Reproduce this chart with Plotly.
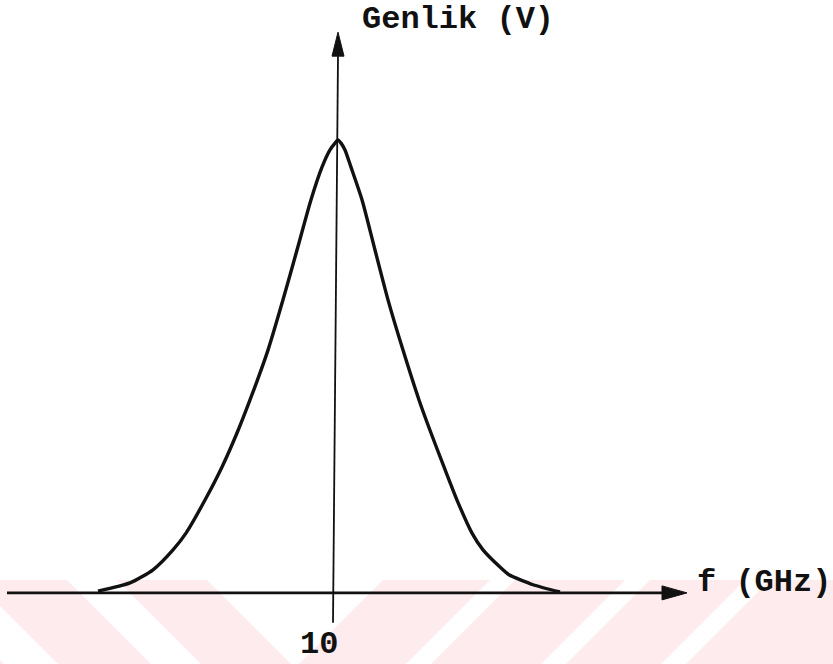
import plotly.graph_objects as go

# Spectrum of the signal: amplitude (normalised) versus frequency in GHz
freq_ghz = [7.60, 7.92, 8.15, 8.35, 8.48, 8.67, 8.84, 8.99, 9.12, 9.30, 9.45,
            9.59, 9.73, 9.84, 9.92, 9.97, 10.00, 10.03, 10.07, 10.13, 10.24,
            10.37, 10.50, 10.65, 10.81, 10.93, 11.06, 11.19, 11.34, 11.45,
            11.62, 11.71, 11.95, 12.22]
amplitude = [0.004, 0.022, 0.051, 0.095, 0.132, 0.205, 0.278, 0.353, 0.426,
             0.536, 0.647, 0.757, 0.868, 0.940, 0.978, 0.993, 1.000, 0.993,
             0.978, 0.940, 0.868, 0.757, 0.647, 0.536, 0.426, 0.353, 0.278,
             0.205, 0.132, 0.095, 0.057, 0.040, 0.018, 0.002]

center_tick = [10]
center_label = ["10"]
y_title = "Genlik (V)"
x_title = "f (GHz)"

W, H = 833, 664
X_RANGE = [6.62, 14.95]
Y_RANGE = [-0.157, 1.309]

# axis extents (data units)
X_AXIS_START, X_AXIS_END = 6.69, 13.49
Y_AXIS_BOTTOM, Y_AXIS_TOP = -0.066, 1.238

ink = "#111111"
font = dict(family="Liberation Mono, Courier New, monospace", size=32, color=ink)

fig = go.Figure()
fig.add_trace(go.Scatter(
    x=freq_ghz, y=amplitude, mode="lines",
    line=dict(color=ink, width=3.4, shape="spline", smoothing=0.6),
    hoverinfo="skip", showlegend=False,
))

px_x = (X_RANGE[1] - X_RANGE[0]) / W   # data units per pixel
px_y = (Y_RANGE[1] - Y_RANGE[0]) / H

shapes = []

# faint chevron band along the bottom edge (paper coordinates)
def pp(x, y):
    return x / W, 1 - y / H

def poly(points, color):
    d = "M " + " L ".join(f"{pp(x, y)[0]:.5f},{pp(x, y)[1]:.5f}" for x, y in points) + " Z"
    return dict(type="path", xref="paper", yref="paper", path=d,
                fillcolor=color, line=dict(width=0), layer="below")

pink = "#fdebee"
shapes.append(poly([(0, 580), (W, 580), (W, H), (0, H)], pink))
band_top, band_bot = 580, H
drop = band_bot - band_top
for a, b in [(-80, -26), (67, 117)]:
    shapes.append(poly([(a, band_top), (b, band_top), (b + drop, band_bot), (a + drop, band_bot)], "white"))
shapes.append(poly([(207, band_top), (383, band_top), (299, band_bot), (291, band_bot)], "white"))
for a, b in [(490, 515), (625, 650), (745, 770)]:
    shapes.append(poly([(a, band_top), (b, band_top), (b - drop, band_bot), (a - drop, band_bot)], "white"))

# horizontal axis with arrowhead
head_len_x = 25 * px_x
head_half_y = 7 * px_y
shapes.append(dict(type="line", x0=X_AXIS_START, x1=X_AXIS_END - head_len_x, y0=0, y1=0,
                   line=dict(color=ink, width=2.6)))
shapes.append(dict(type="path",
                   path=f"M {X_AXIS_END - head_len_x},{head_half_y} L {X_AXIS_END},0 "
                        f"L {X_AXIS_END - head_len_x},{-head_half_y} Z",
                   fillcolor=ink, line=dict(color=ink, width=1)))

# vertical axis with arrowhead (centred on f = 10)
f0 = center_tick[0]
head_len_y = 24 * px_y
head_half_x = 6 * px_x
shapes.append(dict(type="line", x0=f0 - 5 * px_x, x1=f0, y0=Y_AXIS_BOTTOM, y1=Y_AXIS_TOP - head_len_y,
                   line=dict(color=ink, width=1.8)))
shapes.append(dict(type="path",
                   path=f"M {f0 - head_half_x},{Y_AXIS_TOP - head_len_y} L {f0},{Y_AXIS_TOP} "
                        f"L {f0 + head_half_x},{Y_AXIS_TOP - head_len_y} Z",
                   fillcolor=ink, line=dict(color=ink, width=1)))

bold = "<b>{}</b>"
annotations = [
    dict(x=f0, y=(593 - 20) * px_y, xref="x", yref="y", text=bold.format(y_title), showarrow=False,
         xanchor="left", yanchor="middle", xshift=22, font=font),
    dict(x=X_AXIS_END, y=0.022, xref="x", yref="y", text=bold.format(x_title), showarrow=False,
         xanchor="left", yanchor="middle", xshift=8, font=font),
    dict(x=center_tick[0], y=-0.115, xref="x", yref="y", text=bold.format(center_label[0]),
         showarrow=False, xanchor="right", yanchor="middle", xshift=2, font=font),
]

fig.update_layout(
    width=W, height=H,
    margin=dict(l=0, r=0, t=0, b=0),
    paper_bgcolor="white", plot_bgcolor="white",
    xaxis=dict(range=X_RANGE, visible=False, fixedrange=True),
    yaxis=dict(range=Y_RANGE, visible=False, fixedrange=True),
    shapes=shapes, annotations=annotations,
)

fig.write_html("out.html")
